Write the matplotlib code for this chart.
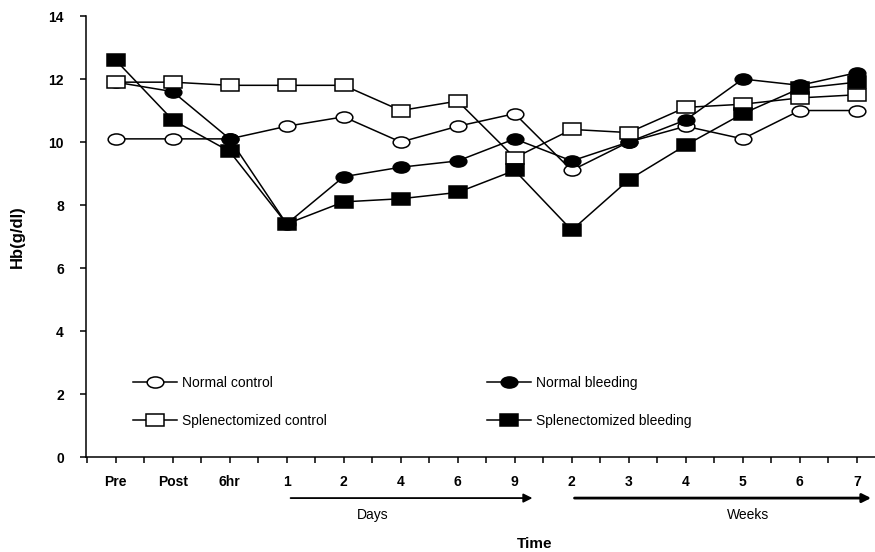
import numpy as np
import matplotlib
matplotlib.use('Agg')
import matplotlib.pyplot as plt
from matplotlib.markers import MarkerStyle
from matplotlib.transforms import Affine2D

plt.rcParams['font.family'] = ['Liberation Sans', 'DejaVu Sans']

# time points (x tick labels)
time_labels = ['Pre', 'Post', '6hr', '1', '2', '4', '6', '9', '2', '3', '4', '5', '6', '7']

# Hb values (g/dl)
normal_control = [10.1, 10.1, 10.1, 10.5, 10.8, 10.0, 10.5, 10.9, 9.1, 10.0, 10.5, 10.1, 11.0, 11.0]
normal_bleeding = [11.9, 11.6, 10.1, 7.4, 8.9, 9.2, 9.4, 10.1, 9.4, 10.0, 10.7, 12.0, 11.8, 12.2]
splen_control = [11.9, 11.9, 11.8, 11.8, 11.8, 11.0, 11.3, 9.5, 10.4, 10.3, 11.1, 11.2, 11.4, 11.5]
splen_bleeding = [12.6, 10.7, 9.7, 7.4, 8.1, 8.2, 8.4, 9.1, 7.2, 8.8, 9.9, 10.9, 11.7, 11.9]

x = np.arange(len(time_labels))

fig = plt.figure(figsize=(8.75, 5.52), dpi=100)
ax = fig.add_axes([0.0983, 0.172, 0.9017, 0.799])

# markers look a bit stretched sideways in the original
circ = MarkerStyle('o', transform=Affine2D().scale(1.5, 1.0))
sq = MarkerStyle('s', transform=Affine2D().scale(1.45, 1.0))

lw = 1.1
h1, = ax.plot(x, normal_control, color='black', lw=lw, marker=circ, ms=8,
              mfc='white', mec='black', mew=1.1, label='Normal control', zorder=3)
h3, = ax.plot(x, normal_bleeding, color='black', lw=lw, marker=circ, ms=8,
              mfc='black', mec='black', mew=1.1, label='Normal bleeding', zorder=4)
h2, = ax.plot(x, splen_control, color='black', lw=lw, marker=sq, ms=8.5,
              mfc='white', mec='black', mew=1.1, label='Splenectomized control', zorder=5)
h4, = ax.plot(x, splen_bleeding, color='black', lw=lw, marker=sq, ms=8.5,
              mfc='black', mec='black', mew=1.1, label='Splenectomized bleeding', zorder=6)

ax.set_xlim(-0.52, 13.32)
ax.set_ylim(0, 14)
ax.set_yticks(np.arange(0, 15, 2))
ax.set_xticks(x)
ax.set_xticklabels(time_labels, fontweight='bold', fontsize=10)
ax.set_xticks(np.arange(-0.5, 13.5, 1), minor=True)
for lab in ax.get_yticklabels():
    lab.set_fontweight('bold')
    lab.set_fontsize(10)
ax.tick_params(axis='y', direction='out', length=4, width=1.1, pad=12)
ax.tick_params(axis='x', which='both', direction='out', length=4, width=1.1, pad=9)
ax.spines['top'].set_visible(False)
ax.spines['right'].set_visible(False)
ax.spines['left'].set_linewidth(1.1)
ax.spines['bottom'].set_linewidth(1.1)
ax.set_ylabel('Hb(g/dl)', fontweight='bold', fontsize=12)
ax.yaxis.set_label_coords(-0.077, 0.5)

# two legend columns, placed separately
leg_kw = dict(frameon=False, loc='upper left', fontsize=10, handlelength=3.2,
              handletextpad=0.35, labelspacing=1.7, borderpad=0, borderaxespad=0)
leg1 = ax.legend(handles=[h1, h2], bbox_to_anchor=(0.0596, 0.183), **leg_kw)
ax.add_artist(leg1)
ax.legend(handles=[h3, h4], bbox_to_anchor=(0.508, 0.183), **leg_kw)

# Days / Weeks arrows under the axis
ax.annotate('', xy=(7.36, -0.093), xytext=(3.02, -0.093),
            xycoords=('data', 'axes fraction'),
            textcoords=('data', 'axes fraction'),
            arrowprops=dict(arrowstyle='-|>', color='black', lw=1.3,
                            mutation_scale=13), annotation_clip=False)
ax.annotate('', xy=(13.3, -0.093), xytext=(8.0, -0.093),
            xycoords=('data', 'axes fraction'),
            textcoords=('data', 'axes fraction'),
            arrowprops=dict(arrowstyle='-|>', color='black', lw=2.0,
                            mutation_scale=13), annotation_clip=False)
ax.text(4.51, -0.132, 'Days', transform=ax.get_xaxis_transform(),
        ha='center', va='center', fontsize=10)
ax.text(11.1, -0.132, 'Weeks', transform=ax.get_xaxis_transform(),
        ha='center', va='center', fontsize=10)
ax.text(7.35, -0.197, 'Time', transform=ax.get_xaxis_transform(),
        ha='center', va='center', fontsize=11, fontweight='bold')

fig.savefig('out.png', dpi=100)
